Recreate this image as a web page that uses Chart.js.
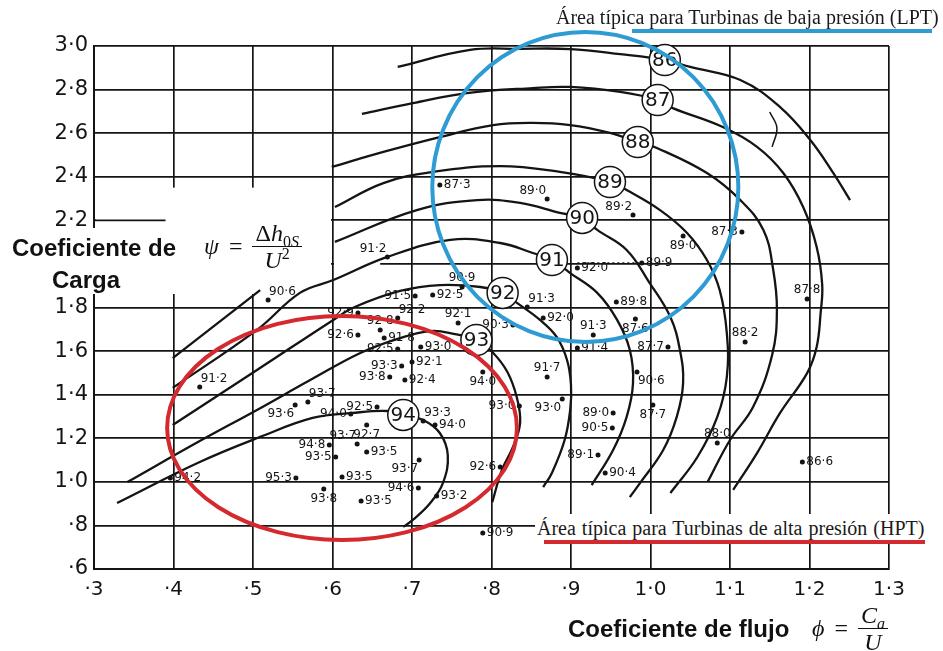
<!DOCTYPE html>
<html lang="es">
<head>
<meta charset="utf-8">
<title>Coeficiente de carga frente a coeficiente de flujo</title>
<script src="https://cdn.jsdelivr.net/npm/chart.js@4.4.1/dist/chart.umd.min.js"></script>
<style>
  html, body { margin: 0; padding: 0; background: #fff; }
  #wrap { position: relative; width: 943px; height: 651px; overflow: hidden; background: #fff; }
  #chart { position: absolute; left: 0; top: 0; }
  .txt { position: absolute; white-space: nowrap; color: #111; }
  .axisTitle { font-family: "Liberation Sans", Arial, sans-serif; font-weight: bold; font-size: 24px; line-height: 28px; }
  .area { font-family: "Liberation Serif", "Times New Roman", serif; font-size: 20px; line-height: 28px; color: #1a1a1a; }
  .formula { font-family: "Liberation Serif", "DejaVu Serif", serif; font-size: 24px; display: flex; align-items: center; }
  .frac { display: inline-flex; flex-direction: column; align-items: center; line-height: 26px; }
  .frac .num { border-bottom: 1.6px solid #111; padding: 0 3px; }
  .frac .den { padding: 0 3px; }
  .formula sub, .formula sup { font-size: 16px; line-height: 0; }
  .bar { position: absolute; }
</style>
</head>
<body>
<div id="wrap">
  <canvas id="chart" width="943" height="651"></canvas>

  <div class="txt area" style="left:556px; top:3px;">Área típica para Turbinas de baja presión (LPT)</div>
  <div class="bar" style="left:632px; top:29px; width:300px; height:4px; background:#2e9bd3;"></div>

  <div class="txt area" style="left:535px; top:514px; width:395px; padding-left:2px; background:#fff; word-spacing:1px;">Área típica para Turbinas de alta presión (HPT)</div>
  <div class="bar" style="left:544px; top:540px; width:381px; height:4px; background:#d42a2f;"></div>

  <div class="txt axisTitle" style="left:12px; top:234px;">Coeficiente de</div>
  <div class="txt axisTitle" style="left:52px; top:266px;">Carga</div>

  <div class="txt formula" style="left:204px; top:220px;">
    <i>ψ</i><span style="margin:0 10px;">=</span>
    <span class="frac"><span class="num">Δ<i>h</i><sub>0<i>S</i></sub></span><span class="den"><i>U</i><sup>2</sup></span></span>
  </div>

  <div class="txt axisTitle" style="left:568px; top:615px;">Coeficiente de flujo</div>
  <div class="txt formula" style="left:812px; top:602px;">
    <i>ϕ</i><span style="margin:0 10px;">=</span>
    <span class="frac"><span class="num"><i>C</i><sub><i>a</i></sub></span><span class="den"><i>U</i></span></span>
  </div>
</div>

<script>
// Efficiency contours (phi, psi) for each level, drawn as smooth lines
const contour86 = [[0.682,2.904],[0.773,2.982],[0.836,2.987],[0.899,2.986],[0.962,2.963],[1.018,2.936],[1.050,2.904],[1.113,2.844],[1.163,2.720],[1.201,2.569],[1.230,2.417],[1.251,2.293]];
const arc86 = [[1.150,2.697],[1.159,2.624],[1.153,2.537]];
const contour87 = [[0.637,2.688],[0.701,2.738],[0.769,2.784],[0.852,2.807],[0.899,2.812],[0.962,2.789],[1.009,2.752],[1.028,2.715],[1.091,2.628],[1.134,2.537],[1.167,2.417],[1.192,2.261],[1.209,2.078],[1.216,1.903],[1.214,1.775],[1.209,1.619],[1.197,1.499],[1.163,1.316],[1.134,1.132],[1.104,0.963]];
const contour88 = [[0.599,2.445],[0.664,2.514],[0.735,2.582],[0.802,2.637],[0.852,2.647],[0.899,2.637],[0.949,2.601],[0.984,2.559],[1.008,2.532],[1.071,2.417],[1.113,2.293],[1.142,2.156],[1.154,1.981],[1.159,1.789],[1.153,1.582],[1.129,1.343],[1.100,1.192],[1.072,1.000]];
const contour89 = [[0.603,2.261],[0.664,2.371],[0.726,2.422],[0.811,2.449],[0.886,2.422],[0.949,2.376],[0.970,2.339],[1.012,2.247],[1.046,2.142],[1.071,2.018],[1.087,1.880],[1.096,1.683],[1.096,1.481],[1.084,1.298],[1.059,1.114],[1.025,0.949]];
const contour90 = [[0.603,2.101],[0.706,2.247],[0.782,2.293],[0.836,2.280],[0.886,2.234],[0.914,2.211],[0.933,2.156],[0.970,2.064],[0.999,1.912],[1.025,1.756],[1.037,1.605],[1.041,1.453],[1.033,1.298],[1.016,1.146],[0.987,0.995],[0.974,0.930]];
const contour90Tail = [[0.399,1.568],[0.509,1.880]];
const contour91 = [[0.399,1.431],[0.505,1.697],[0.559,1.867],[0.601,1.926],[0.669,2.032],[0.748,2.110],[0.811,2.096],[0.852,2.050],[0.876,2.018],[0.899,1.958],[0.933,1.867],[0.958,1.743],[0.974,1.605],[0.978,1.453],[0.970,1.298],[0.953,1.146],[0.926,0.985]];
const contour92 = [[0.399,1.261],[0.505,1.513],[0.601,1.743],[0.628,1.802],[0.685,1.876],[0.735,1.903],[0.786,1.894],[0.814,1.867],[0.832,1.821],[0.861,1.743],[0.882,1.665],[0.895,1.559],[0.900,1.444],[0.899,1.330],[0.892,1.192],[0.876,1.041],[0.865,0.976]];
const contour93 = [[0.342,0.999],[0.433,1.187],[0.505,1.330],[0.572,1.467],[0.635,1.591],[0.681,1.655],[0.723,1.692],[0.754,1.678],[0.781,1.651],[0.801,1.596],[0.820,1.504],[0.832,1.385],[0.836,1.270],[0.827,1.160],[0.813,1.054],[0.801,0.907]];
const contour94 = [[0.329,0.903],[0.433,1.091],[0.509,1.206],[0.575,1.293],[0.625,1.316],[0.669,1.325],[0.689,1.307],[0.714,1.284],[0.735,1.224],[0.745,1.123],[0.739,0.995],[0.723,0.903],[0.701,0.825],[0.689,0.793]];
const dottedLink = [[0.908,2.004],[0.987,2.004]];

// Contour level labels (circled numbers) and where they sit on each line
const contourLevels = [86, 87, 88, 89, 90, 91, 92, 93, 94];
const levelPhi = [1.018, 1.009, 0.984, 0.949, 0.914, 0.876, 0.814, 0.781, 0.689];
const levelPsi = [2.936, 2.752, 2.559, 2.376, 2.211, 2.018, 1.867, 1.651, 1.307];

// Measured turbine test points: flow coefficient, loading coefficient, efficiency (%)
const testPhi = [0.735,0.870,0.669,0.763,0.704,0.726,0.978,1.041,1.115,0.989,0.908,0.957,0.845,0.865,0.928,0.908,0.981,1.022,0.983,1.003,0.953,0.952,0.889,0.870,0.934,0.943,1.119,1.197,1.084,1.191,0.789,0.632,0.660,0.682,0.665,0.632,0.682,0.687,0.711,0.700,0.758,0.672,0.691,0.789,0.835,0.569,0.553,0.623,0.656,0.714,0.729,0.631,0.643,0.596,0.604,0.643,0.709,0.554,0.612,0.708,0.589,0.636,0.731,0.811,0.433,0.519,0.396,0.827];
const testPsi = [2.362,2.298,2.032,1.894,1.853,1.857,2.224,2.128,2.146,2.004,1.981,1.825,1.802,1.752,1.674,1.614,1.747,1.619,1.504,1.353,1.316,1.247,1.380,1.481,1.123,1.041,1.642,1.839,1.178,1.091,0.765,1.775,1.697,1.752,1.660,1.674,1.610,1.532,1.619,1.550,1.729,1.481,1.467,1.504,1.348,1.366,1.353,1.311,1.343,1.279,1.261,1.174,1.261,1.169,1.114,1.137,1.100,1.018,1.022,0.972,0.967,0.912,0.935,1.068,1.435,1.834,1.018,1.720];
const testEta = [87.3,89.0,91.2,90.9,91.5,92.5,89.2,89.0,87.3,89.9,92.0,89.8,91.3,92.0,91.3,91.4,87.6,87.7,90.6,87.7,89.0,90.5,93.0,91.7,89.1,90.4,88.2,87.8,88.0,86.6,90.9,92.9,92.8,92.2,91.8,92.6,92.5,93.3,93.0,92.1,92.1,93.8,92.4,94.0,93.0,93.7,93.6,94.0,92.5,93.3,94.0,93.7,92.7,94.8,93.5,93.5,93.7,95.3,93.5,94.6,93.8,93.5,93.2,92.6,91.2,90.6,94.2,90.3];
// Which side of its dot each efficiency label is written on
const labelSide = ['e','nw','nw','n','w','e','nw','s','w','e','e','e','ne','e','n','e','s','w','se','s','w','w','sw','n','w','e','n','n','n','e','e','w','n','ne','e','w','w','w','e','e','n','w','e','s','w','ne','sw','w','w','ne','e','nw','s','w','w','e','sw','w','e','w','s','e','e','w','ne','ne','e','w'];

// Axis tick values
const phiTicks = [0.3,0.4,0.5,0.6,0.7,0.8,0.9,1.0,1.1,1.2,1.3];
const psiTicks = [0.6,0.8,1.0,1.2,1.4,1.6,1.8,2.0,2.2,2.4,2.6,2.8,3.0];

const INK = '#141414';

// "1·0", "·8" style numbers
function dotNum(v, keepZero) {
  const s = (Math.round(v * 10) / 10).toFixed(1);
  const t = s.replace('.', '·');
  return (!keepZero && t.startsWith('0')) ? t.slice(1) : t;
}

const toXY = arr => arr.map(p => ({ x: p[0], y: p[1] }));

function lineSet(arr, extra) {
  return Object.assign({
    data: toXY(arr),
    showLine: true,
    borderColor: INK,
    borderWidth: 2.3,
    pointRadius: 0,
    pointHitRadius: 0,
    tension: 0.4,
    fill: false
  }, extra || {});
}

const datasets = [
  lineSet(contour86), lineSet(arc86, { borderWidth: 1.5 }),
  lineSet(contour87), lineSet(contour88), lineSet(contour89),
  lineSet(contour90), lineSet(contour90Tail, { tension: 0 }),
  lineSet(contour91), lineSet(contour92), lineSet(contour93), lineSet(contour94),
  lineSet(dottedLink, { borderWidth: 1.6, borderDash: [2, 3], tension: 0 }),
  {
    data: testPhi.map((p, i) => ({ x: p, y: testPsi[i] })),
    showLine: false,
    pointRadius: 2.5,
    pointBackgroundColor: INK,
    pointBorderWidth: 0
  }
];

const decorations = {
  id: 'decorations',
  beforeDatasetsDraw(chart) {
    const { ctx, scales: { x, y } } = chart;
    ctx.save();
    ctx.fillStyle = '#fff';
    // clear the grid behind the loading-coefficient formula and title
    const l = x.getPixelForValue(0.3) + 1.5;
    const r = x.getPixelForValue(0.6) - 1.5;
    const t = y.getPixelForValue(2.35);
    const b = y.getPixelForValue(1.862);
    ctx.fillRect(l, t, r - l, b - t);
    const t2 = y.getPixelForValue(2.165);
    ctx.fillRect(0, t2, l + 1, b - t2);
    const g0 = y.getPixelForValue(2.0);
    ctx.fillRect(r + 3, g0 - 2, x.getPixelForValue(0.66) - r - 3, 4);
    // short stub of the 2·2 grid line
    ctx.strokeStyle = INK;
    ctx.lineWidth = 1.7;
    ctx.beginPath();
    ctx.moveTo(x.getPixelForValue(0.3), y.getPixelForValue(2.2));
    ctx.lineTo(x.getPixelForValue(0.39), y.getPixelForValue(2.2));
    ctx.stroke();
    ctx.restore();
  },
  afterDatasetsDraw(chart) {
    const { ctx, scales: { x, y } } = chart;
    ctx.save();

    // efficiency value next to each test point
    ctx.fillStyle = INK;
    ctx.font = '12px "DejaVu Sans", sans-serif';
    testPhi.forEach((p, i) => {
      const px = x.getPixelForValue(p);
      const py = y.getPixelForValue(testPsi[i]);
      const txt = dotNum(testEta[i], true);
      const side = labelSide[i];
      let tx = px, ty = py;
      if (side === 'e') { ctx.textAlign = 'left'; ctx.textBaseline = 'middle'; tx = px + 4; }
      else if (side === 'w') { ctx.textAlign = 'right'; ctx.textBaseline = 'middle'; tx = px - 4; }
      else if (side === 'n') { ctx.textAlign = 'center'; ctx.textBaseline = 'bottom'; ty = py - 3; }
      else if (side === 's') { ctx.textAlign = 'center'; ctx.textBaseline = 'top'; ty = py + 4; }
      else if (side === 'ne') { ctx.textAlign = 'left'; ctx.textBaseline = 'bottom'; tx = px + 1; ty = py - 2; }
      else if (side === 'nw') { ctx.textAlign = 'right'; ctx.textBaseline = 'bottom'; tx = px - 1; ty = py - 2; }
      else if (side === 'se') { ctx.textAlign = 'left'; ctx.textBaseline = 'top'; tx = px + 1; ty = py + 3; }
      else { ctx.textAlign = 'right'; ctx.textBaseline = 'top'; tx = px - 1; ty = py + 3; }
      ctx.fillText(txt, tx, ty);
    });

    // circled contour levels
    ctx.font = '20px "DejaVu Sans", sans-serif';
    ctx.textAlign = 'center';
    ctx.textBaseline = 'middle';
    contourLevels.forEach((lv, i) => {
      const cx = x.getPixelForValue(levelPhi[i]);
      const cy = y.getPixelForValue(levelPsi[i]);
      ctx.beginPath();
      ctx.arc(cx, cy, 15.5, 0, Math.PI * 2);
      ctx.fillStyle = '#fff';
      ctx.fill();
      ctx.lineWidth = 1.5;
      ctx.strokeStyle = INK;
      ctx.stroke();
      ctx.fillStyle = INK;
      ctx.fillText(String(lv), cx, cy + 1);
    });

    // typical design regions: HPT (red) and LPT (blue)
    const ring = (phi, psi, dPhi, dPsi, color) => {
      const cx = x.getPixelForValue(phi);
      const cy = y.getPixelForValue(psi);
      const rx = Math.abs(x.getPixelForValue(phi + dPhi) - cx);
      const ry = Math.abs(y.getPixelForValue(psi + dPsi) - cy);
      ctx.beginPath();
      ctx.ellipse(cx, cy, rx, ry, 0, 0, Math.PI * 2);
      ctx.lineWidth = 4;
      ctx.strokeStyle = color;
      ctx.stroke();
    };
    ring(0.612, 1.247, 0.220, 0.514, '#d42a2f');
    ring(0.918, 2.353, 0.1925, 0.711, '#2e9bd3');

    ctx.restore();
  }
};

new Chart(document.getElementById('chart'), {
  type: 'scatter',
  data: { datasets },
  options: {
    responsive: false,
    animation: false,
    devicePixelRatio: 1,
    layout: { padding: { top: 46, right: 54, left: 0, bottom: 0 } },
    plugins: { legend: { display: false }, tooltip: { enabled: false } },
    scales: {
      x: {
        type: 'linear',
        min: phiTicks[0],
        max: phiTicks[phiTicks.length - 1],
        afterFit(s) { s.height = 82; },
        afterBuildTicks(s) { s.ticks = phiTicks.map(v => ({ value: v })); },
        ticks: {
          autoSkip: false,
          maxRotation: 0,
          padding: 9,
          color: INK,
          font: { family: '"DejaVu Sans", sans-serif', size: 20 },
          callback: v => dotNum(v, false)
        },
        grid: { color: INK, lineWidth: 1.7, drawTicks: false },
        border: { color: INK, width: 2 }
      },
      y: {
        type: 'linear',
        min: psiTicks[0],
        max: psiTicks[psiTicks.length - 1],
        afterFit(s) { s.width = 94; },
        afterBuildTicks(s) { s.ticks = psiTicks.map(v => ({ value: v })); },
        ticks: {
          autoSkip: false,
          padding: 6,
          color: INK,
          font: { family: '"DejaVu Sans", sans-serif', size: 21 },
          callback: v => (Math.abs(v - 2.0) < 1e-6 ? '' : dotNum(v, false))
        },
        grid: { color: INK, lineWidth: 1.7, drawTicks: false },
        border: { color: INK, width: 2 }
      }
    }
  },
  plugins: [decorations]
});
</script>
</body>
</html>
